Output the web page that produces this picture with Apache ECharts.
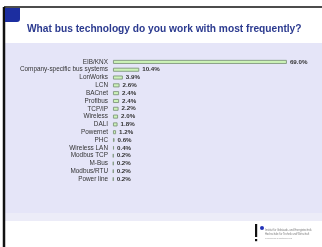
<!DOCTYPE html>
<html>
<head>
<meta charset="utf-8">
<script src="https://cdn.jsdelivr.net/npm/echarts@6/dist/echarts.min.js"></script>
<style>
  html, body { margin: 0; padding: 0; background: #fff; }
  #chart { width: 322px; height: 247px; }
</style>
</head>
<body>
<div id="chart"></div>
<script>
var kategori = ['EIB/KNX', 'Company-specific bus systems', 'LonWorks', 'LCN', 'BACnet', 'Profibus',
    'TCP/IP', 'Wireless', 'DALI', 'Powernet', 'PHC', 'Wireless LAN', 'Modbus TCP', 'M-Bus',
    'Modbus/RTU', 'Power line'];
var persen = [69.0, 10.4, 3.9, 2.6, 2.4, 2.4, 2.2, 2.0, 1.8, 1.2, 0.6, 0.4, 0.2, 0.2, 0.2, 0.2];
var judulChart = 'What bus technology do you work with most frequently?';
var logoTeks = ['Institut für Gebäude- und Energietechnik', 'Hochschule für Technik und Wirtschaft', 'Forschung & Entwicklung'];

var chartDom = document.getElementById('chart');
var myChart = echarts.init(chartDom);

var option = {
    animation: false,
    backgroundColor: '#ffffff',
    graphic: [
        { type: 'rect', z: -10, shape: { x: 4, y: 43, width: 318, height: 178 }, style: { fill: '#e5e5f8' } },
        { type: 'rect', z: -9, shape: { x: 4, y: 213, width: 318, height: 8 }, style: { fill: '#ececf8' } },
        { type: 'line', shape: { x1: 4, y1: 7, x2: 322, y2: 7 }, style: { stroke: '#111', lineWidth: 1.5 } },
        { type: 'line', shape: { x1: 4, y1: 7, x2: 4, y2: 247 }, style: { stroke: '#111', lineWidth: 2.5 } },
        { type: 'rect', shape: { x: 5, y: 8, width: 15, height: 14, r: [0, 0, 3, 0] }, style: { fill: '#1c2ea0' } },
        {
            type: 'text', left: 27, top: 24,
            style: { text: judulChart, font: 'bold 10.2px "Liberation Sans", Arial, sans-serif', fill: '#2b3a8f' }
        },
        { type: 'rect', shape: { x: 255, y: 224, width: 2.2, height: 13 }, style: { fill: '#111' } },
        { type: 'rect', shape: { x: 255, y: 239, width: 2.2, height: 2.2 }, style: { fill: '#111' } },
        { type: 'circle', shape: { cx: 262, cy: 228, r: 2 }, style: { fill: '#2231b8' } },
        { type: 'text', left: 265, top: 229, style: { text: logoTeks[0], font: '2.6px sans-serif', fill: '#777' } },
        { type: 'text', left: 265, top: 233, style: { text: logoTeks[1], font: '2.6px sans-serif', fill: '#777' } },
        { type: 'text', left: 265, top: 237, style: { text: logoTeks[2], font: '2.4px sans-serif', fill: '#999' } }
    ],
    grid: {
        left: 113,
        top: 58,
        width: 201.6,
        height: 125,
        containLabel: false
    },
    xAxis: {
        type: 'value',
        min: 0,
        max: 80,
        show: false
    },
    yAxis: {
        type: 'category',
        data: kategori,
        inverse: true,
        axisLine: { show: false },
        axisTick: { show: false },
        axisLabel: {
            interval: 0,
            color: '#333',
            fontSize: 6.4,
            fontFamily: '"Liberation Sans", Arial, sans-serif',
            margin: 5
        }
    },
    series: [{
        type: 'bar',
        data: persen,
        barWidth: 4,
        itemStyle: {
            color: '#cdf3b8',
            borderColor: '#7f967d',
            borderWidth: 0.9
        },
        label: {
            show: true,
            position: 'right',
            distance: 3,
            color: '#333',
            fontSize: 6.2,
            fontWeight: 'bold',
            fontFamily: '"Liberation Sans", Arial, sans-serif',
            formatter: function(params) {
                return params.value.toFixed(1) + '%';
            }
        }
    }]
};
myChart.setOption(option);
</script>
</body>
</html>
